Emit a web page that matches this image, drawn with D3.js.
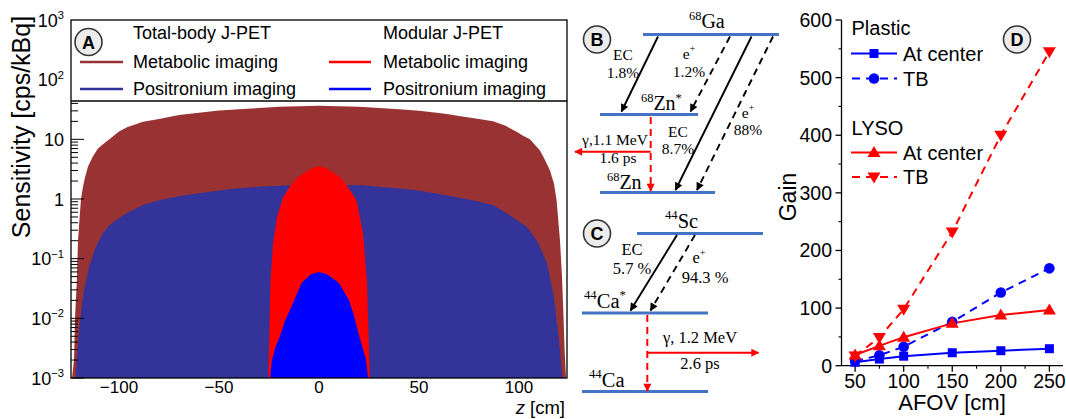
<!DOCTYPE html>
<html><head><meta charset="utf-8">
<script src="https://cdn.jsdelivr.net/npm/d3@7/dist/d3.min.js"></script>
<style>body{margin:0;background:#fff}svg{display:block}</style>
</head><body><svg id="c" width="1066" height="419"></svg>
<script>
// ---------- Panel A data (sensitivity profiles, cps/kBq vs z [cm]) ----------
const tbMetabZ = [-123.5,-122.5,-122,-121,-120.5,-119.5,-119,-118,-117,-115.5,-113,-110.5,-108,-104.5,-100,-96,-88,-80,-70,-60,-50,-40,-30,-20,-10,0,10,20,30,40,50,60,65.5,70,80,87,93,99,102,105.5,108,110.5,113,115.5,117.5,118.8,120.5,121.5,122.2,122.8,123.5];
const tbMetabS = [0.001,0.002,0.01,0.05,0.2,0.6,1.0,1.6,2.3,3.5,5.2,7,8.3,10.2,13.5,16,19.7,22,25.5,28,30.5,32,33.5,35,36,36.5,36,35,33.5,32,30,27.5,26,24.5,22,20,17,13.3,11.5,10,8,6.5,4.5,3.0,1.8,0.95,0.2,0.05,0.012,0.003,0.001];
const tbPosZ = [-121.7,-121,-119.7,-117.5,-115,-111.7,-108,-104.5,-100,-96,-88,-80,-69.5,-60,-44.5,-30,-23,-10,0,10,22,30,45,55,65.5,75,87,93,99,104,109,114,117.5,120,121.7];
const tbPosS = [0.001,0.0022,0.0083,0.03,0.072,0.155,0.27,0.37,0.48,0.58,0.79,0.95,1.12,1.25,1.47,1.6,1.65,1.72,1.75,1.72,1.7,1.6,1.45,1.3,1.12,0.98,0.79,0.6,0.44,0.34,0.2,0.085,0.0225,0.0043,0.001];
const modMetabZ = [-25.4,-25,-24.3,-23,-21,-18,-15,-11,-5,0,5,11,15,18.8,22,24,25,25.4];
const modMetabS = [0.001,0.003,0.04,0.18,0.5,1.07,1.55,2.24,3.1,3.6,3.1,2.24,1.5,0.95,0.27,0.04,0.003,0.001];
const modPosZ = [-24.5,-23.5,-21.5,-19.5,-17,-13,-8.7,-4,0,4,10,15,17.5,19.5,21.5,23.5,24.5];
const modPosS = [0.001,0.002,0.0035,0.005,0.009,0.018,0.039,0.055,0.06,0.055,0.039,0.02,0.011,0.006,0.0035,0.002,0.001];
const aXTicks = [-100,-50,0,50,100];
const aYExp = [-3,-2,-1,0,1,2,3];
const aLegendHeads = ["Total-body J-PET","Modular J-PET"];
const aLegendRows = ["Metabolic imaging","Positronium imaging"];

// ---------- Panel D data (gain vs AFOV [cm]) ----------
const afov = [50,75,100,150,200,250];
const plasticCenter = [6,11.5,16.5,22.5,26,29.5];
const plasticTB = [8,18,33,76,127,169];
const lysoCenter = [18.5,34.5,49.5,73.5,88,96.5];
const lysoTB = [17,49,98,232,400,545];
const dXTicks = [50,100,150,200,250];
const dYTicks = [0,100,200,300,400,500,600];

// ---------- Panels B, C: decay schemes ----------
const gaBranches = ["EC","1.8%","e","1.2%","EC","8.7%","e","88%"];
const scBranches = ["EC","5.7 %","e","94.3 %"];

const svg = d3.select("#c");
const SANS = "'Liberation Sans', Arial, Helvetica, sans-serif";
const SERIF = "'Liberation Serif', 'Times New Roman', serif";

function rich(sel, x, y, segs, size, family, anchor) {
  const t = sel.append("text").attr("x", x).attr("y", y)
    .attr("font-family", family).attr("font-size", size)
    .attr("text-anchor", anchor || "start").attr("fill", "#000");
  let prev = 0;
  segs.forEach(s => {
    const sh = s.sup ? -size * 0.42 : 0;
    const ts = t.append("tspan").text(s.t).attr("dy", sh - prev);
    if (s.sup) ts.attr("font-size", size * 0.62);
    if (s.italic) ts.attr("font-style", "italic");
    prev = sh;
  });
  return t;
}
function badge(x, y, letter) {
  svg.append("circle").attr("cx", x).attr("cy", y).attr("r", 13.5)
    .attr("fill", "#ececec").attr("stroke", "#333").attr("stroke-width", 1.6);
  svg.append("text").attr("x", x).attr("y", y + 6.5).attr("text-anchor", "middle")
    .attr("font-family", SANS).attr("font-weight", "bold").attr("font-size", 18).text(letter);
}
const zip = (a, b) => a.map((v, i) => [v, b[i]]);

// ================= Panel A =================
const xA = d3.scaleLinear().domain([-124, 124]).range([71, 567]);
const yA = d3.scaleLog().domain([1e-3, 1e3]).range([378, 20]);
const clampS = v => Math.max(v, 1e-3);
const areaA = d3.area().x(d => xA(d[0])).y0(yA(1e-3)).y1(d => yA(clampS(d[1])));
const gA = svg.append("g");
gA.append("path").datum(zip(tbMetabZ, tbMetabS)).attr("d", areaA).attr("fill", "#993333");
gA.append("path").datum(zip(tbPosZ, tbPosS)).attr("d", areaA).attr("fill", "#333399");
gA.append("path").datum(zip(modMetabZ, modMetabS)).attr("d", areaA).attr("fill", "#ff0000");
gA.append("path").datum(zip(modPosZ, modPosS)).attr("d", areaA).attr("fill", "#0000ff");

aYExp.forEach(e => {
  const v = Math.pow(10, e);
  if (e < 3) {
    for (let m = 2; m <= 9; m++) {
      const yy = yA(m * v);
      if (yy < 101) continue;
      gA.append("line").attr("x1", 71).attr("x2", 78).attr("y1", yy).attr("y2", yy)
        .attr("stroke", "#000").attr("stroke-width", 1);
    }
  }
  if (yA(v) > 101) {
    gA.append("line").attr("x1", 71).attr("x2", 84).attr("y1", yA(v)).attr("y2", yA(v))
      .attr("stroke", "#000").attr("stroke-width", 1);
  }
  let segs;
  if (e === 0) segs = [{t: "1"}];
  else if (e === 1) segs = [{t: "10"}];
  else segs = [{t: "10"}, {t: e < 0 ? "\u2212" + (-e) : String(e), sup: true}];
  rich(svg, 64, yA(v) + 6.5, segs, 18, SANS, "end");
});
aXTicks.forEach(t => {
  svg.append("text").attr("x", xA(t)).attr("y", 393).attr("text-anchor", "middle")
    .attr("font-family", SANS).attr("font-size", 17)
    .text(t < 0 ? "\u2212" + (-t) : String(t));
});
rich(svg, 565, 414, [{t: "z", italic: true}, {t: " [cm]"}], 18.5, SANS, "end");
svg.append("text").attr("transform", "translate(30,127) rotate(-90)").attr("text-anchor", "middle")
  .attr("font-family", SANS).attr("font-size", 25).text("Sensitivity [cps/kBq]");

svg.append("rect").attr("x", 71).attr("y", 20).attr("width", 496).attr("height", 81)
  .attr("fill", "#fff").attr("stroke", "none");
svg.append("rect").attr("x", 71).attr("y", 20).attr("width", 496).attr("height", 358)
  .attr("fill", "none").attr("stroke", "#000").attr("stroke-width", 1.3);
svg.append("line").attr("x1", 71).attr("x2", 567).attr("y1", 101).attr("y2", 101)
  .attr("stroke", "#000").attr("stroke-width", 1.3);
const legCols = [133, 383];
const legLine = [[80, 123], [329, 371]];
const legColors = [["#993333", "#333399"], ["#ff0000", "#0000ff"]];
const legY = [33, 62, 89];
aLegendHeads.forEach((h, i) => {
  svg.append("text").attr("x", legCols[i]).attr("y", legY[0] + 6).attr("font-family", SANS)
    .attr("font-size", 18).text(h);
  aLegendRows.forEach((r, j) => {
    svg.append("line").attr("x1", legLine[i][0]).attr("x2", legLine[i][1])
      .attr("y1", legY[j + 1]).attr("y2", legY[j + 1]).attr("stroke", legColors[i][j]).attr("stroke-width", 2.5);
    svg.append("text").attr("x", legCols[i]).attr("y", legY[j + 1] + 6).attr("font-family", SANS)
      .attr("font-size", 18).text(r);
  });
});
badge(88.5, 42, "A");

// ================= Panels B & C =================
const defs = svg.append("defs");
function mk(id, color) {
  defs.append("marker").attr("id", id).attr("viewBox", "0 0 10 10").attr("refX", 9).attr("refY", 5)
    .attr("markerWidth", 9).attr("markerHeight", 8).attr("markerUnits", "userSpaceOnUse")
    .attr("orient", "auto").append("path").attr("d", "M0,0 L10,5 L0,10 Z").attr("fill", color);
}
mk("ab", "#000"); mk("ar", "#ff0000");
const LV = "#4472c4";
function level(x1, x2, y) {
  svg.append("line").attr("x1", x1).attr("x2", x2).attr("y1", y).attr("y2", y)
    .attr("stroke", LV).attr("stroke-width", 3.2);
}
function arrow(x1, y1, x2, y2, color, dashed) {
  const l = svg.append("line").attr("x1", x1).attr("y1", y1).attr("x2", x2).attr("y2", y2)
    .attr("stroke", color).attr("stroke-width", 1.9)
    .attr("marker-end", color === "#000" ? "url(#ab)" : "url(#ar)");
  if (dashed) l.attr("stroke-dasharray", "7,5");
  return l;
}
function txt(x, y, s, size) {
  svg.append("text").attr("x", x).attr("y", y).attr("text-anchor", "middle")
    .attr("font-family", SERIF).attr("font-size", size).text(s);
}
// B : 68Ga
badge(597, 39.5, "B");
level(643, 779, 34.5);
level(600, 698, 114.5);
level(600, 715, 192.5);
rich(svg, 689, 28, [{t: "68", sup: true}, {t: "Ga"}], 20, SERIF, "start");
rich(svg, 641, 110, [{t: "68", sup: true}, {t: "Zn"}, {t: "*", sup: true}], 20, SERIF, "start");
rich(svg, 607, 189, [{t: "68", sup: true}, {t: "Zn"}], 20, SERIF, "start");
arrow(658, 36.5, 621.5, 111.5, "#000", false);
arrow(730, 36.5, 690.5, 111.5, "#000", true);
arrow(751.5, 36.5, 675.5, 190, "#000", false);
arrow(773, 36.5, 697, 190, "#000", true);
const bFont = 15.5;
txt(623, 60, gaBranches[0], bFont);
txt(623, 78, gaBranches[1], bFont);
rich(svg, 689, 59, [{t: gaBranches[2]}, {t: "+", sup: true}], bFont, SERIF, "middle");
txt(689, 77, gaBranches[3], bFont);
txt(678, 137, gaBranches[4], bFont);
txt(678, 154, gaBranches[5], bFont);
rich(svg, 748, 118, [{t: gaBranches[6]}, {t: "+", sup: true}], bFont, SERIF, "middle");
txt(748, 135, gaBranches[7], bFont);
arrow(650.7, 117, 650.7, 191, "#ff0000", true).attr("stroke-width", 2);
arrow(650.7, 151.7, 575, 151.7, "#ff0000", false).attr("stroke-width", 2);
txt(615, 145, "\u03b3,1.1 MeV", bFont);
txt(618, 163, "1.6 ps", bFont);

// C : 44Sc
badge(597, 233.5, "C");
level(637, 763, 233.5);
level(582, 708, 313);
level(582, 708, 391.5);
rich(svg, 665, 228, [{t: "44", sup: true}, {t: "Sc"}], 20.5, SERIF, "start");
rich(svg, 584, 308, [{t: "44", sup: true}, {t: "Ca"}, {t: "*", sup: true}], 20.5, SERIF, "start");
rich(svg, 589, 387, [{t: "44", sup: true}, {t: "Ca"}], 20.5, SERIF, "start");
arrow(677, 235, 630.5, 310.5, "#000", false);
arrow(695, 235, 650.5, 310.5, "#000", true);
const cFont = 16.5;
txt(632, 254.5, scBranches[0], cFont);
txt(632, 273.5, scBranches[1], cFont);
rich(svg, 699, 263, [{t: scBranches[2]}, {t: "+", sup: true}], cFont, SERIF, "middle");
txt(705, 283, scBranches[3], cFont);
arrow(647.3, 315, 647.3, 391, "#ff0000", true).attr("stroke-width", 2);
arrow(647.3, 352.7, 758.5, 352.7, "#ff0000", false).attr("stroke-width", 2);
txt(700, 343, "\u03b3, 1.2 MeV", cFont);
txt(700, 368.5, "2.6 ps", cFont);

// ================= Panel D =================
const xD = d3.scaleLinear().domain([36, 264]).range([841.5, 1063]);
const yD = d3.scaleLinear().domain([0, 600]).range([365.7, 20]);
const gD = svg.append("g");
gD.append("line").attr("x1", xD(36)).attr("x2", xD(36)).attr("y1", yD(0)).attr("y2", yD(600)).attr("stroke", "#000").attr("stroke-width", 1.3);
gD.append("line").attr("x1", xD(36)).attr("x2", xD(264)).attr("y1", yD(0)).attr("y2", yD(0)).attr("stroke", "#000").attr("stroke-width", 1.3);
dYTicks.forEach(t => {
  gD.append("line").attr("x1", xD(36) - 6).attr("x2", xD(36)).attr("y1", yD(t)).attr("y2", yD(t)).attr("stroke", "#000").attr("stroke-width", 1.3);
  if (t < 600) gD.append("line").attr("x1", xD(36) - 3).attr("x2", xD(36)).attr("y1", yD(t + 50)).attr("y2", yD(t + 50)).attr("stroke", "#000").attr("stroke-width", 1.1);
  gD.append("text").attr("x", 832).attr("y", yD(t) + 7).attr("text-anchor", "end").attr("font-family", SANS).attr("font-size", 19.5).text(t);
});
dXTicks.forEach(t => {
  gD.append("line").attr("x1", xD(t)).attr("x2", xD(t)).attr("y1", yD(0)).attr("y2", yD(0) + 6).attr("stroke", "#000").attr("stroke-width", 1.3);
  gD.append("line").attr("x1", xD(t + 25)).attr("x2", xD(t + 25)).attr("y1", yD(0)).attr("y2", yD(0) + 3).attr("stroke", "#000").attr("stroke-width", 1.1);
  gD.append("text").attr("x", xD(t)).attr("y", 388).attr("text-anchor", "middle").attr("font-family", SANS).attr("font-size", 19.5).text(t);
});
svg.append("text").attr("x", 952).attr("y", 410).attr("text-anchor", "middle").attr("font-family", SANS).attr("font-size", 22).text("AFOV [cm]");
svg.append("text").attr("transform", "translate(796,197) rotate(-90)").attr("text-anchor", "middle").attr("font-family", SANS).attr("font-size", 23).text("Gain");

const lineD = d3.line().x(d => xD(d[0])).y(d => yD(d[1]));
const series = [
  {v: plasticCenter, c: "#0000ff", dash: null, m: "square"},
  {v: plasticTB, c: "#0000ff", dash: "8,6", m: "circle"},
  {v: lysoCenter, c: "#ff0000", dash: null, m: "up"},
  {v: lysoTB, c: "#ff0000", dash: "8,6", m: "down"}
];
function marker(g, x, y, type, color) {
  if (type === "square") g.append("rect").attr("x", x - 4.5).attr("y", y - 4.5).attr("width", 9).attr("height", 9).attr("fill", color);
  else if (type === "circle") g.append("circle").attr("cx", x).attr("cy", y).attr("r", 5.3).attr("fill", color);
  else if (type === "up") g.append("path").attr("d", `M${x},${y - 6.5}L${x + 6.5},${y + 4.5}L${x - 6.5},${y + 4.5}Z`).attr("fill", color);
  else g.append("path").attr("d", `M${x},${y + 6.5}L${x + 6.5},${y - 4.5}L${x - 6.5},${y - 4.5}Z`).attr("fill", color);
}
series.forEach(s => {
  const p = gD.append("path").datum(zip(afov, s.v)).attr("d", lineD).attr("fill", "none")
    .attr("stroke", s.c).attr("stroke-width", 2);
  if (s.dash) p.attr("stroke-dasharray", s.dash);
});
series.forEach(s => afov.forEach((a, i) => marker(gD, xD(a), yD(s.v[i]), s.m, s.c)));

const legD = [
  {head: "Plastic", y: 35},
  {lab: "At center", y: 53.5, s: series[0]},
  {lab: "TB", y: 78.5, s: series[1]},
  {head: "LYSO", y: 135},
  {lab: "At center", y: 152.5, s: series[2]},
  {lab: "TB", y: 177, s: series[3]}
];
legD.forEach(r => {
  if (r.head) {
    svg.append("text").attr("x", 851.5).attr("y", r.y).attr("font-family", SANS).attr("font-size", 20).text(r.head);
  } else {
    const l = svg.append("line").attr("x1", 851).attr("x2", 897).attr("y1", r.y).attr("y2", r.y)
      .attr("stroke", r.s.c).attr("stroke-width", 2);
    if (r.s.dash) l.attr("stroke-dasharray", "8,6").attr("stroke-dashoffset", -1);
    marker(svg, 874, r.y, r.s.m, r.s.c);
    svg.append("text").attr("x", 903).attr("y", r.y + 7).attr("font-family", SANS).attr("font-size", 20).text(r.lab);
  }
});
badge(1017, 39.5, "D");
</script></body></html>
